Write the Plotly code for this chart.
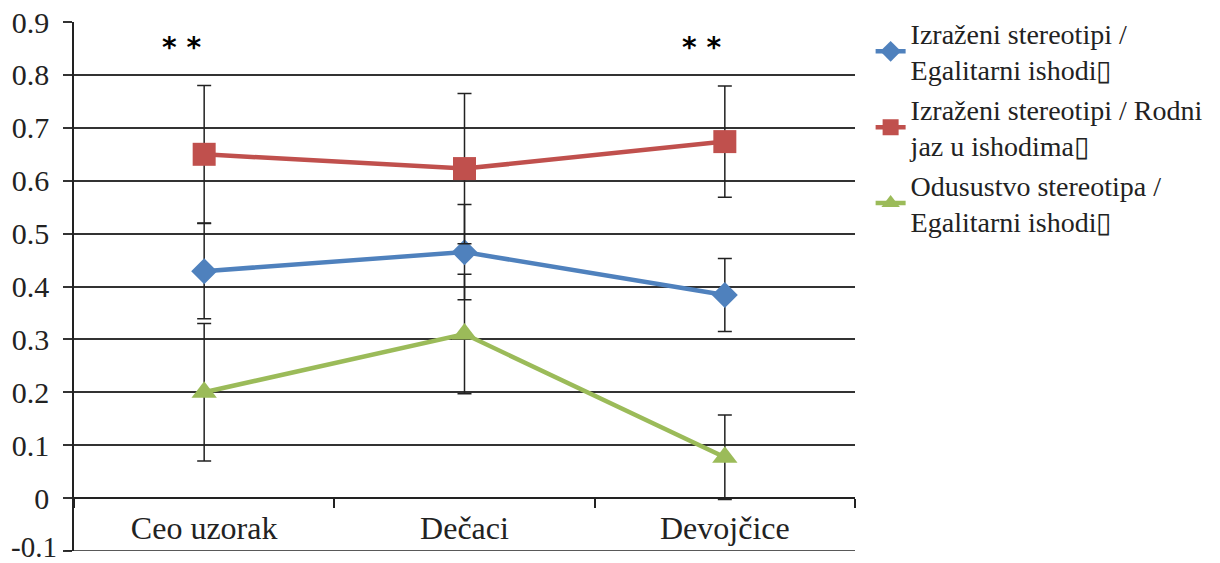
import plotly.graph_objects as go

categories = ["Ceo uzorak", "Dečaci", "Devojčice"]

series_names = [
    "Izraženi stereotipi /<br>Egalitarni ishodi\u25af",
    "Izraženi stereotipi / Rodni<br>jaz u ishodima\u25af",
    "Odusustvo stereotipa /<br>Egalitarni ishodi\u25af",
]
blue_vals = [0.429, 0.465, 0.384]
blue_err = [0.090, 0.090, 0.069]
red_vals = [0.650, 0.623, 0.674]
red_err = [0.130, 0.142, 0.105]
green_vals = [0.200, 0.310, 0.077]
green_err = [0.130, 0.113, 0.080]

sig_categories = ["Ceo uzorak", "Devojčice"]
sig_labels = ["* *", "* *"]
sig_y = [0.852, 0.852]

y_ticks = [-0.1, 0, 0.1, 0.2, 0.3, 0.4, 0.5, 0.6, 0.7, 0.8, 0.9]
y_tick_text = ["-0.1", "0", "0.1", "0.2", "0.3", "0.4", "0.5", "0.6", "0.7", "0.8", "0.9"]
y_min = -0.1

colors = ["#4F81BD", "#C0504D", "#9BBB59"]
symbols = ["diamond", "square", "triangle-up"]
sizes = [20, 23, 22]

fig = go.Figure()
for name, vals, errs, col, sym, sz in zip(
    series_names,
    [blue_vals, red_vals, green_vals],
    [blue_err, red_err, green_err],
    colors, symbols, sizes,
):
    fig.add_trace(go.Scatter(
        x=categories, y=vals, name=name, mode="lines+markers",
        line=dict(color=col, width=4.5),
        marker=dict(color=col, symbol=sym, size=sz),
        error_y=dict(type="data", array=errs, visible=True,
                     color="#222222", thickness=1.5, width=7),
    ))

for c, t, yv in zip(sig_categories, sig_labels, sig_y):
    fig.add_annotation(x=c, y=yv, text="<b>" + t + "</b>", showarrow=False, xshift=-23,
                       font=dict(family="DejaVu Sans", size=28, color="black"))

font_family = "Liberation Serif"

# bottom border line at y = -0.1 (with its outside tick) and its label
fig.add_shape(type="line", xref="paper", yref="y", x0=-9 / 781, x1=1, y0=y_min, y1=y_min,
              line=dict(color="#222222", width=1.5))
fig.add_annotation(xref="paper", yref="y", x=0, y=y_min, text=y_tick_text[0],
                   showarrow=False, xanchor="right", yanchor="middle", xshift=-15, yshift=4,
                   font=dict(family=font_family, size=29, color="#222222"))

fig.update_layout(
    width=1220, height=563,
    margin=dict(l=74, r=365, t=22, b=12, autoexpand=False),
    paper_bgcolor="white", plot_bgcolor="white",
    font=dict(family=font_family, size=28, color="#222222"),
    showlegend=True,
    legend=dict(x=1.02, y=0.985, xanchor="left", yanchor="top", yref="container",
                font=dict(family=font_family, size=28, color="#222222"),
                itemwidth=30, tracegroupgap=0, bgcolor="rgba(0,0,0,0)"),
    xaxis=dict(type="category", range=[-0.5, 2.5], anchor="free", position=0.1,
               showgrid=False, showline=True, linecolor="#222222", linewidth=1.5,
               ticks="outside", tickson="boundaries", ticklen=9, tickcolor="#222222",
               tickwidth=1.5, tickfont=dict(family=font_family, size=32, color="#222222"),
               ticklabelstandoff=2, zeroline=False, automargin=False),
    yaxis=dict(range=[-0.1002, 0.9002], tickvals=y_ticks, ticktext=y_tick_text,
               showgrid=True, gridcolor="#333333", gridwidth=1.5,
               showline=True, linecolor="#222222", linewidth=1.5,
               ticks="outside", ticklen=9, tickcolor="#333333", tickwidth=1.5,
               tickfont=dict(family=font_family, size=30, color="#222222"),
               ticklabelstandoff=8, zeroline=False, automargin=False),
)

fig.write_html("out.html", post_script="document.body.style.margin='0';",
               config={"displayModeBar": False})
